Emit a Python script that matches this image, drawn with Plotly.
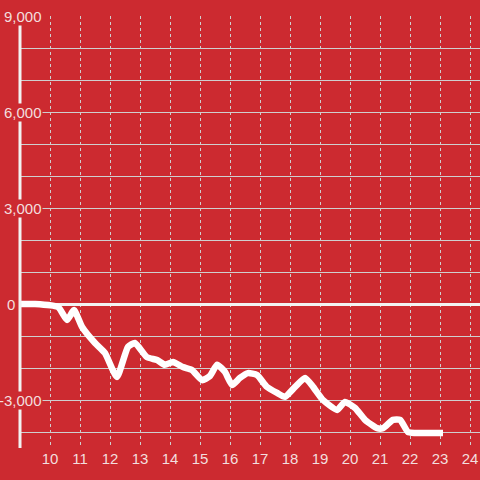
import plotly.graph_objects as go

hours = [9, 9.5, 10.27, 10.57, 10.8, 11.07, 11.5, 11.83, 12.23, 12.6, 12.83, 13.23, 13.57,
         13.83, 14.1, 14.43, 14.73, 15.07, 15.33, 15.57, 15.83, 16.07, 16.33, 16.6, 16.9,
         17.23, 17.57, 17.83, 18.17, 18.5, 18.77, 19.1, 19.57, 19.83, 20.17, 20.5, 20.9,
         21.1, 21.43, 21.67, 21.93, 22.17, 23.1]
values = [0, 0, -94, -500, -190, -720, -1220, -1530, -2280, -1340, -1220, -1660, -1750,
          -1900, -1810, -1970, -2060, -2380, -2250, -1900, -2120, -2530, -2310, -2160, -2220,
          -2590, -2780, -2900, -2590, -2310, -2590, -3000, -3310, -3060, -3250, -3620, -3880,
          -3880, -3620, -3620, -4000, -4030, -4030]

x_ticks = list(range(10, 25))
y_label_values = [9000, 6000, 3000, 0, -3000]
y_label_texts = ["9,000", "6,000", "3,000", "0", "-3,000"]

BG = "#cc2a30"
TXT = "#f3dede"
GRID = "#cfcfcf"
FONT = "Liberation Sans, Arial, sans-serif"

fig = go.Figure()
fig.add_trace(go.Scatter(x=hours, y=values, mode="lines",
                         line=dict(color="#ffffff", width=6.5, shape="spline", smoothing=0.5),
                         hoverinfo="skip", showlegend=False))

for v, t in zip(y_label_values, y_label_texts):
    xr = 0.05 if t != "0" else -0.008
    fig.add_annotation(x=xr, xref="paper", y=v, yref="y", text=t, showarrow=False,
                       xanchor="right", yanchor="middle", bgcolor=BG, borderpad=0,
                       font=dict(family=FONT, size=15, color=TXT))

fig.update_layout(
    width=480, height=480,
    margin=dict(l=20, r=0, t=16, b=32),
    paper_bgcolor=BG, plot_bgcolor=BG,
    font=dict(family=FONT, size=15, color=TXT),
    xaxis=dict(range=[9, 24.333], tickvals=x_ticks, showgrid=True, gridcolor=GRID,
               griddash="dot", gridwidth=1, zeroline=False, showline=False, ticks="",
               tickfont=dict(size=15, color=TXT)),
    yaxis=dict(range=[-4500, 9000], dtick=1000, showgrid=True, gridcolor=GRID, gridwidth=1,
               zeroline=True, zerolinecolor="#f2f2f2", zerolinewidth=3,
               showticklabels=False, ticks="", showline=False),
)

fig.add_shape(type="line", xref="paper", yref="paper", x0=0, x1=0, y0=0, y1=1,
              line=dict(color="#f2f2f2", width=3), layer="above")

fig.write_html("out.html", config={"displayModeBar": False},
               post_script="document.body.style.margin='0';document.body.style.overflow='hidden';")
